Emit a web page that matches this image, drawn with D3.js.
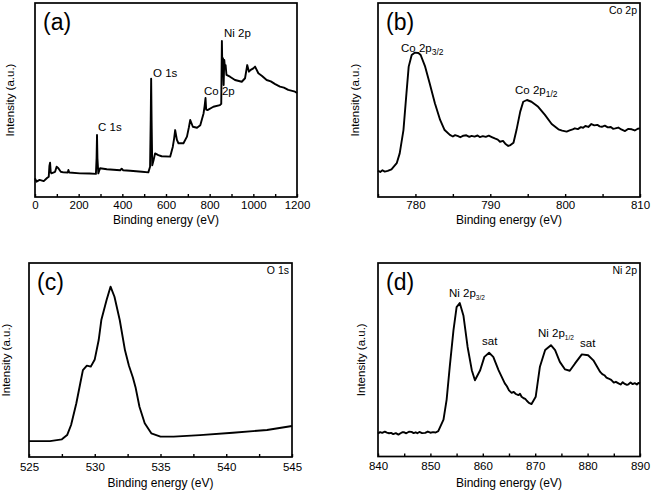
<!DOCTYPE html>
<html><head><meta charset="utf-8">
<script src="https://cdn.jsdelivr.net/npm/d3@7"></script>
<style>
body{margin:0;background:#fff}
svg{display:block}
text{font-family:"Liberation Sans",Arial,Helvetica,sans-serif;fill:#000}
</style>
</head><body>
<svg id="chart" width="651" height="493"></svg>
<script>
// ---------- DATA (intensity in arbitrary units, 0 = axis bottom, 100 = frame top) ----------
const surveyEnergy = [0,7,21,40,55,63,66,69,72,75,92,99,107,118,130,150,153,157,206,250,279,282,284,286,290,298,329,390,397,403,436,490,519,527,530,532,534,537,543,550,565,580,619,631,637,642,650,657,680,696,705,711,723,742,757,772,777,781,784,790,817,847,853,856,858,861,864,867,870,873,877,893,916,947,962,972,980,988,1000,1008,1023,1040,1061,1080,1100,1122,1140,1160,1191,1200];
const surveyIntensity = [9.6,7.9,8.8,8.2,9.8,10.5,16,17.7,13,12.2,13,15.6,14.8,13,12.7,12.6,13.9,12.6,12.2,12.1,11.9,20,32,20,12.2,14.8,14.3,13.8,14.6,13.8,13.5,13,12.7,15.6,40,61,40,16.3,18.9,22.5,21.6,21,20.8,25.8,30,34.5,29.4,27.7,27.7,31.1,36,39.7,36.2,35.7,37,43.1,47,51,45,44.8,46.5,47.4,48,80.4,66.5,71.6,57.7,70.6,66.5,68,62.9,62,60.3,59.4,61.2,68,64.6,65.5,66.3,67.2,63.8,62.4,60.3,59.6,58.2,56.9,56.4,55.2,54.3,53.6];

const coEnergy = [775,775.3,775.6,775.9,776.3,776.8,777.5,777.9,778.4,778.8,779.1,779.5,779.9,780.4,780.7,781.3,781.9,782.6,783.3,783.9,784.6,785,785.3,785.7,786,786.4,786.8,787.2,787.5,787.9,788.3,788.6,789,789.4,789.8,790.2,790.6,791,791.3,791.7,792,792.4,792.7,793.1,793.5,794,794.4,794.9,795.5,796.4,797.3,798.2,799.1,799.6,800.2,800.6,801,801.3,801.7,802.1,802.4,802.7,803.1,803.5,803.9,804.3,804.6,804.9,805.3,805.7,806.1,806.4,806.7,807.1,807.5,808,808.4,808.9,809.3,809.7,810];
const coIntensity = [13.6,12.9,13.8,13.1,13.5,14.3,17.4,22.5,34.5,53.4,67.2,73.2,74.4,74.2,73.2,67.2,58.6,48.3,39.7,34.5,32,31.2,31.9,31.4,30.8,31.6,31.8,31,31.5,31.1,31.7,30.9,31.4,31,31.6,30.9,30.2,29.6,28.5,28.9,27.5,26.3,26.8,28,34.5,44,49.1,50,49.1,46.5,42.3,37.6,34.9,34.2,33.7,34.3,34.9,35.4,35,36,35.7,36.6,36.1,37.6,36.9,37.2,36.4,36.2,36.8,35.9,36.1,35.2,35.4,35.8,34.8,34,35.1,34.9,34.3,35.2,35.4];

const oEnergy = [525,526.6,527.5,527.9,528.2,528.6,528.9,529.1,529.4,529.7,530,530.3,530.5,530.9,531.2,531.5,531.9,532.3,532.6,532.9,533.1,533.4,533.8,534.3,535,536,538,540.5,543.1,545];
const oIntensity = [8.2,8.2,9.1,11.3,16.5,27.7,38,44.8,47.1,46.6,50.3,60.3,70.6,80.9,87.8,82.6,70.6,55,47,41,36,25.9,17.4,12.2,10.5,10.5,11.3,12.5,13.9,16];

const niEnergy = [840,840.4,840.8,841.3,841.7,842.1,842.5,842.9,843.4,843.9,844.3,844.7,845,845.4,845.9,846.4,846.8,847.2,847.5,847.9,848.4,849,849.5,850,850.5,851,851.5,852.5,853.1,853.7,854.4,855,855.6,856.3,857.1,857.9,858.5,859.5,860.3,861.2,862,863,864.2,864.6,865,865.5,865.9,866.3,866.8,867.1,867.4,867.8,868.1,868.4,868.8,869.3,870.1,870.9,871.9,873,873.8,874.7,875.7,876.6,877.6,878.9,880.1,881.1,882.4,882.8,883.2,883.6,884,884.5,885,885.4,885.9,886.3,886.7,887.1,887.5,887.8,888.2,888.6,889,889.4,889.7,890];
const niIntensity = [11.9,12.6,12.2,12.8,12.3,12,12.2,11.6,12.1,11.3,12,12.6,12.5,12,12.8,12.7,12.1,12.5,12,12.7,12.1,12.2,12.9,12.3,12.6,12.4,13.1,19.1,29.4,46.6,65.2,77.2,79.3,72.9,56.6,44.6,39.4,44.6,51.5,53.6,51.5,44.6,37.8,36.3,34.2,32.9,33.4,32.3,31.7,32.4,30.9,30.1,29.8,28.8,27.7,27.1,30.9,46.4,55,57.5,55,48.9,45,44.3,48.1,52.8,52.3,49.7,43.7,42.6,42,40.8,40.3,39.6,38.2,38.6,37.8,37.2,38.4,37.5,37,37.3,38.2,37.4,37.9,37.2,38,37.8];

const surveyTicks = d3.range(0,1201,100);
const surveyTickLabels = [0,200,400,600,800,1000,1200];
const coTicks = [775,780,785,790,795,800,805,810];
const coTickLabels = [780,790,800,810];
const oTicks = [525,527.5,530,532.5,535,537.5,540,542.5,545];
const oTickLabels = [525,530,535,540,545];
const niTicks = [840,845,850,855,860,865,870,875,880,885,890];
const niTickLabels = [840,850,860,870,880,890];

const xTitle = "Binding energy (eV)";
const yTitle = "Intensity (a.u.)";

// ---------- LAYOUT ----------
const panels = [
  {tag:"(a)", energy:surveyEnergy, inten:surveyIntensity, domain:[0,1200], ticks:surveyTicks, labels:surveyTickLabels,
   box:{x0:35,x1:297,y0:3,y1:197}, lblPad:4, xTitleY:224, yTitleX:14, corner:null,
   notes:[{t:"C 1s",x:98,y:131},{t:"O 1s",x:153,y:77},{t:"Co 2p",x:204,y:95},{t:"Ni 2p",x:224,y:37}]},
  {tag:"(b)", energy:coEnergy, inten:coIntensity, domain:[775,810], ticks:coTicks, labels:coTickLabels,
   box:{x0:378,x1:640,y0:3,y1:197}, lblPad:4, xTitleY:224, yTitleX:359, corner:"Co 2p",
   notes:[{t:"Co 2p",sub:"3/2",x:401,y:52,subSize:8.5},{t:"Co 2p",sub:"1/2",x:515,y:94,subSize:8.5}]},
  {tag:"(c)", energy:oEnergy, inten:oIntensity, domain:[525,545], ticks:oTicks, labels:oTickLabels,
   box:{x0:29,x1:292,y0:263,y1:457}, lblPad:5.5, xTitleY:487, yTitleX:10, corner:"O 1s", notes:[]},
  {tag:"(d)", energy:niEnergy, inten:niIntensity, domain:[840,890], ticks:niTicks, labels:niTickLabels,
   box:{x0:378,x1:640,y0:263,y1:456.5}, lblPad:5.5, xTitleY:487, yTitleX:365, corner:"Ni 2p",
   notes:[{t:"Ni 2p",sub:"3/2",x:449,y:297,subSize:6.5},{t:"sat",x:482,y:345},{t:"Ni 2p",sub:"1/2",x:538,y:337,subSize:6.5},{t:"sat",x:580,y:347}]}
];

const svg = d3.select("#chart");

panels.forEach(p => {
  const b = p.box;
  const x = d3.scaleLinear().domain(p.domain).range([b.x0,b.x1]);
  const y = d3.scaleLinear().domain([0,100]).range([b.y1,b.y0]);
  const g = svg.append("g");

  const ax = d3.axisBottom(x).tickValues(p.ticks).tickSize(-3).tickPadding(p.lblPad)
    .tickFormat(d => p.labels.includes(d) ? d3.format("d")(d) : "");
  const axg = g.append("g").attr("transform",`translate(0,${b.y1})`).call(ax);
  axg.select(".domain").remove();
  axg.selectAll(".tick line").attr("stroke","#000").attr("stroke-width",1.4);
  axg.selectAll(".tick text").attr("font-size",11.5).attr("font-family",'"Liberation Sans",Arial,sans-serif').attr("fill","#000");

  const line = d3.line().x((d,i)=>x(p.energy[i])).y((d,i)=>y(p.inten[i]));
  g.append("path").datum(p.inten).attr("d",line).attr("fill","none")
    .attr("stroke","#000").attr("stroke-width",1.9).attr("stroke-linejoin","round");

  g.append("rect").attr("x",b.x0).attr("y",b.y0).attr("width",b.x1-b.x0).attr("height",b.y1-b.y0)
    .attr("fill","none").attr("stroke","#000").attr("stroke-width",1.7);

  g.append("text").attr("x",b.x0+8).attr("y",b.y0+27).attr("font-size",23).text(p.tag);

  if (p.corner) g.append("text").attr("x",b.x1-3).attr("y",b.y0+11).attr("text-anchor","end")
    .attr("font-size",10.5).text(p.corner);

  p.notes.forEach(n => {
    const t = g.append("text").attr("x",n.x).attr("y",n.y).attr("font-size",11.5);
    t.append("tspan").text(n.t);
    if (n.sub) t.append("tspan").attr("dy",3).attr("font-size",n.subSize).text(n.sub);
  });

  g.append("text").attr("x",(b.x0+b.x1)/2).attr("y",p.xTitleY).attr("text-anchor","middle")
    .attr("font-size",12).text(xTitle);
  g.append("text").attr("transform",`translate(${p.yTitleX},${(b.y0+b.y1)/2}) rotate(-90)`)
    .attr("text-anchor","middle").attr("font-size",11.5).text(yTitle);
});
</script>
</body></html>
